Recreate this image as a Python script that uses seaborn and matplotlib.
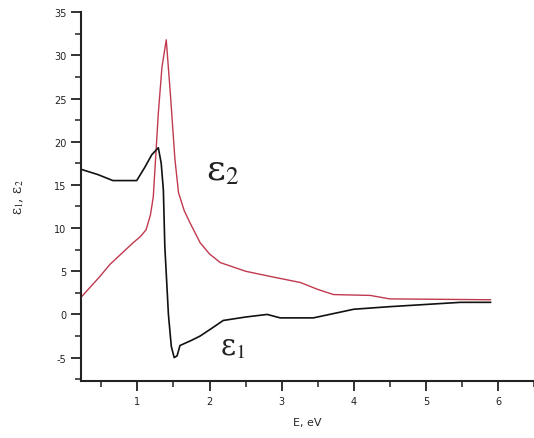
import matplotlib
matplotlib.use("Agg")
import matplotlib.pyplot as plt
import seaborn as sns
import pandas as pd
from matplotlib.ticker import MultipleLocator

# ---- data ----
e2_energy = [0.22, 0.48, 0.62, 0.94, 1.04, 1.12, 1.18, 1.22, 1.29, 1.34, 1.40, 1.46,
             1.52, 1.57, 1.65, 1.73, 1.87, 2.0, 2.15, 2.5, 2.9, 3.26, 3.5, 3.72,
             4.23, 4.5, 5.9]
eps2 = [2.0, 4.4, 5.8, 8.3, 9.0, 9.8, 11.5, 13.6, 23.3, 28.6, 31.8, 25.2,
        18.0, 14.1, 12.0, 10.6, 8.3, 7.0, 6.0, 5.0, 4.3, 3.7, 2.9, 2.3,
        2.2, 1.8, 1.7]

e1_energy = [0.22, 0.45, 0.66, 0.99, 1.1, 1.2, 1.29, 1.33, 1.36, 1.38, 1.43, 1.47,
             1.51, 1.55, 1.59, 1.75, 1.87, 2.05, 2.19, 2.5, 2.8, 2.98, 3.44,
             4.0, 4.5, 5.48, 5.9]
eps1 = [16.8, 16.2, 15.5, 15.5, 17.0, 18.5, 19.3, 17.5, 14.4, 7.9, 0.0, -3.7,
        -5.0, -4.8, -3.6, -3.0, -2.5, -1.5, -0.7, -0.3, 0.0, -0.4, -0.4,
        0.6, 0.9, 1.4, 1.4]

x_ticks = [1, 2, 3, 4, 5, 6]
x_tick_labels = ["1", "2", "3", "4", "5", "6"]
y_ticks = [-5, 0, 5, 10, 15, 20, 25, 30, 35]
y_tick_labels = ["-5", "0", "5", "10", "15", "20", "25", "30", "35"]

df2 = pd.DataFrame({"E": e2_energy, "eps": eps2})
df1 = pd.DataFrame({"E": e1_energy, "eps": eps1})

sns.set_style("ticks")
plt.rcParams["mathtext.fontset"] = "stix"
fig = plt.figure(figsize=(5.34, 4.39), dpi=100)
ax = fig.add_axes([0.152, 0.130, 0.848, 0.840])

sns.lineplot(data=df2, x="E", y="eps", ax=ax, color="#c0394e", linewidth=1.0,
             estimator=None, sort=False)
sns.lineplot(data=df1, x="E", y="eps", ax=ax, color="#111111", linewidth=1.2,
             estimator=None, sort=False)

ax.set_xlim(0.22, 6.5)
ax.set_ylim(-7.7, 35)
ax.set_xticks(x_ticks)
ax.set_xticklabels(x_tick_labels)
ax.set_yticks(y_ticks)
ax.set_yticklabels(y_tick_labels)
ax.xaxis.set_minor_locator(MultipleLocator(0.5))
ax.yaxis.set_minor_locator(MultipleLocator(2.5))
ax.tick_params(which="major", direction="out", length=7, width=1.3, labelsize=7, colors="#222222")
ax.tick_params(which="minor", direction="out", length=4, width=1.1, colors="#222222")
for s in ["top", "right"]:
    ax.spines[s].set_visible(False)
for s in ["left", "bottom"]:
    ax.spines[s].set_linewidth(1.5)
    ax.spines[s].set_color("#222222")

ax.set_xlabel("E, eV", fontsize=8, labelpad=8)
ax.set_ylabel("ε$_1$, ε$_2$", fontsize=10, labelpad=20, family="DejaVu Serif")

ax.text(1.95, 16.8, "ε$_2$", fontsize=26, family="DejaVu Serif",
        color="#222222", ha="left", va="center")
ax.text(2.15, -3.7, "ε$_1$", fontsize=21, family="DejaVu Serif",
        color="#222222", ha="left", va="center")

fig.savefig("out.png", dpi=100, facecolor="white")
